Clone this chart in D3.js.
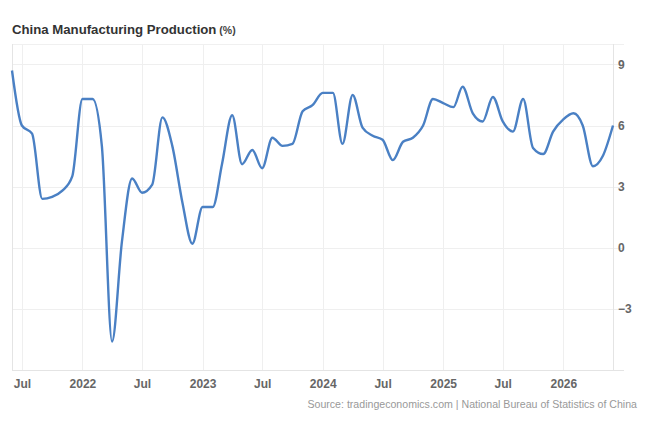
<!DOCTYPE html>
<html>
<head>
<meta charset="utf-8">
<script src="https://cdn.jsdelivr.net/npm/d3@7"></script>
<style>
  body { margin: 0; background: #fff; }
  text { font-family: "Liberation Sans", Arial, sans-serif; }
</style>
</head>
<body>
<div id="chart"></div>
<script>
// monthly readings, first one is June 2021
const startMonth = "2021-06";
const production = [
    8.7, 6.0, 5.6, 2.4, 2.5, 2.8, 3.5,
    7.3, 7.3, 5.0, -4.6, 0.3, 3.4, 2.7, 3.1, 6.4, 5.0, 2.2, 0.2,
    2.0, 2.0, 4.1, 6.5, 4.1, 4.8, 3.9, 5.4, 5.0, 5.1, 6.7, 7.0,
    7.6, 7.6, 5.1, 7.5, 5.9, 5.5, 5.3, 4.3, 5.2, 5.4, 6.0, 7.3,
    7.1, 6.9, 7.9, 6.6, 6.2, 7.4, 6.2, 5.7, 7.3, 4.9, 4.6, 5.7,
    6.3, 6.6, 6.0, 4.0, 4.5, 6.0
];
const yTicks = [-3, 0, 3, 6, 9];
const xTickMonths = ["2021-07", "2022-01", "2022-07", "2023-01", "2023-07", "2024-01",
                     "2024-07", "2025-01", "2025-07", "2026-01"];

const width = 650;
const height = 426;
const plot = { left: 12, right: 613, top: 44, bottom: 370, edge: 624 };

const parseMonth = d3.timeParse("%Y-%m");
const start = parseMonth(startMonth);
const data = production.map((v, i) => ({ date: d3.timeMonth.offset(start, i), value: v }));

const x = d3.scaleTime()
    .domain(d3.extent(data, d => d.date))
    .range([plot.left, plot.right]);

const y = d3.scaleLinear()
    .domain([-6, 10])
    .range([plot.bottom, plot.top]);

const svg = d3.select("#chart").append("svg")
    .attr("width", width)
    .attr("height", height);

svg.append("rect")
    .attr("width", width)
    .attr("height", height)
    .attr("fill", "#fff");

// grid
const grid = svg.append("g").attr("stroke", "#efefef").attr("stroke-width", 1);

grid.selectAll(".hgrid")
    .data(yTicks)
  .enter().append("line")
    .attr("class", "hgrid")
    .attr("x1", plot.left)
    .attr("x2", plot.edge)
    .attr("y1", d => Math.round(y(d)) + 0.5)
    .attr("y2", d => Math.round(y(d)) + 0.5);

grid.selectAll(".vgrid")
    .data(xTickMonths.map(parseMonth))
  .enter().append("line")
    .attr("class", "vgrid")
    .attr("x1", d => Math.round(x(d)) + 0.5)
    .attr("x2", d => Math.round(x(d)) + 0.5)
    .attr("y1", plot.top)
    .attr("y2", plot.bottom);

// frame
const frame = svg.append("g").attr("stroke", "#e4e4e4").attr("stroke-width", 1);
frame.append("line")
    .attr("x1", plot.left).attr("x2", plot.edge)
    .attr("y1", plot.top + 0.5).attr("y2", plot.top + 0.5)
    .attr("stroke", "#f0f0f0");
frame.append("line")
    .attr("x1", plot.left).attr("x2", plot.edge)
    .attr("y1", plot.bottom + 0.5).attr("y2", plot.bottom + 0.5);
frame.append("line")
    .attr("x1", plot.left + 0.5).attr("x2", plot.left + 0.5)
    .attr("y1", plot.top).attr("y2", plot.bottom);
frame.append("line")
    .attr("x1", plot.right + 0.5).attr("x2", plot.right + 0.5)
    .attr("y1", plot.top).attr("y2", plot.bottom);

// axes
const xAxis = d3.axisBottom(x)
    .tickValues(xTickMonths.map(parseMonth))
    .tickSize(0)
    .tickPadding(0)
    .tickFormat(d => d.getMonth() === 0 ? d3.timeFormat("%Y")(d) : d3.timeFormat("%b")(d));

svg.append("g")
    .attr("transform", `translate(0,${plot.bottom + 18})`)
    .call(xAxis)
    .call(g => g.select(".domain").remove())
    .selectAll("text")
    .attr("dy", 0)
    .attr("font-size", 12)
    .attr("font-family", "Liberation Sans, Arial, sans-serif")
    .attr("font-weight", "bold")
    .attr("fill", "#666");

const yAxis = d3.axisRight(y)
    .tickValues(yTicks)
    .tickSize(0)
    .tickPadding(0);

svg.append("g")
    .attr("transform", `translate(${plot.right + 5},0)`)
    .call(yAxis)
    .call(g => g.select(".domain").remove())
    .selectAll("text")
    .attr("font-size", 12)
    .attr("font-family", "Liberation Sans, Arial, sans-serif")
    .attr("font-weight", "bold")
    .attr("fill", "#666");

// line
const line = d3.line()
    .x(d => x(d.date))
    .y(d => y(d.value))
    .curve(d3.curveMonotoneX);

svg.append("path")
    .datum(data)
    .attr("fill", "none")
    .attr("stroke", "#4a80c4")
    .attr("stroke-width", 2.4)
    .attr("stroke-linejoin", "round")
    .attr("d", line);

// title
const title = svg.append("text")
    .attr("x", 12)
    .attr("y", 34)
    .attr("fill", "#333")
    .attr("font-weight", "bold")
    .attr("font-size", 13.2);
title.append("tspan").text("China Manufacturing Production");
title.append("tspan")
    .attr("font-size", 10.5)
    .attr("fill", "#444")
    .text(" (%)");

svg.append("text")
    .attr("x", 637)
    .attr("y", 408)
    .attr("text-anchor", "end")
    .attr("font-size", 10.6)
    .attr("fill", "#999")
    .text("Source: tradingeconomics.com | National Bureau of Statistics of China");
</script>
</body>
</html>
